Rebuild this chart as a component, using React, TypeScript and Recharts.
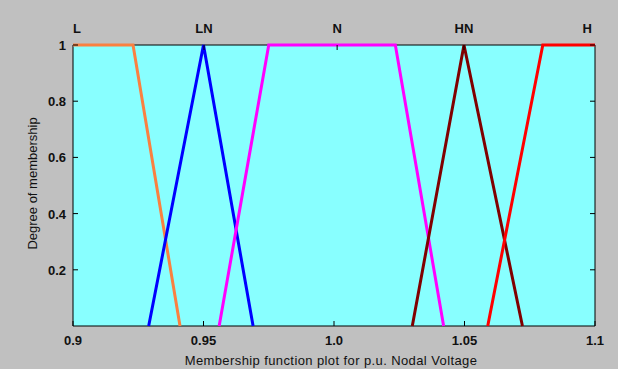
import { LineChart, Line, XAxis, YAxis, ReferenceArea } from "recharts"

const X_TICKS = [0.9, 0.95, 1.0, 1.05, 1.1]
const X_TICK_LABELS = ["0.9", "0.95", "1.0", "1.05", "1.1"]
const Y_TICKS = [0.2, 0.4, 0.6, 0.8, 1]
const Y_TICK_LABELS = ["0.2", "0.4", "0.6", "0.8", "1"]

// membership function names shown on top, and where they sit on the x axis
const MF_NAMES = ["L", "LN", "N", "HN", "H"]
const MF_LABEL_X = [0.9015, 0.9502, 1.0012, 1.0498, 1.097]

const L_X = [0.9, 0.923, 0.941]
const L_Y = [1, 1, 0]
const LN_X = [0.929, 0.95, 0.969]
const LN_Y = [0, 1, 0]
const N_X = [0.956, 0.975, 1.0235, 1.042]
const N_Y = [0, 1, 1, 0]
const HN_X = [1.03, 1.0498, 1.0722]
const HN_Y = [0, 1, 0]
const H_X = [1.0589, 1.08, 1.1]
const H_Y = [0, 1, 1]

const toPts = (xs: number[], ys: number[]) => xs.map((x, i) => ({ x, y: ys[i] }))

const SERIES = [
  { name: "L", data: toPts(L_X, L_Y), color: "#fa8040" },
  { name: "LN", data: toPts(LN_X, LN_Y), color: "#0000ff" },
  { name: "N", data: toPts(N_X, N_Y), color: "#ff00ff" },
  { name: "HN", data: toPts(HN_X, HN_Y), color: "#800000" },
  { name: "H", data: toPts(H_X, H_Y), color: "#ff0000" },
]

const FONT = "'Liberation Sans', Arial, sans-serif"
const TICK_LEN = 5

const BottomTick = (props: any) => {
  const { x, y, index } = props
  return (
    <g>
      <line x1={x} x2={x} y1={y} y2={y - TICK_LEN} stroke="#000" />
      <text x={x} y={y + 19} textAnchor="middle" fontSize={13} fontWeight="bold" fontFamily={FONT} fill="#111">
        {X_TICK_LABELS[index]}
      </text>
    </g>
  )
}

const LeftTick = (props: any) => {
  const { x, y, index } = props
  return (
    <g>
      <line x1={x} x2={x + TICK_LEN} y1={y} y2={y} stroke="#000" />
      <text x={x - 7} y={y + 5} textAnchor="end" fontSize={13} fontWeight="bold" fontFamily={FONT} fill="#111">
        {Y_TICK_LABELS[index]}
      </text>
    </g>
  )
}

const RightTick = (props: any) => {
  const { x, y } = props
  return <line x1={x} x2={x - TICK_LEN} y1={y} y2={y} stroke="#000" />
}

const TopTick = (props: any) => {
  const { x, y, index } = props
  const edge = index === 0 || index === MF_NAMES.length - 1
  return (
    <g>
      {!edge && <line x1={x} x2={x} y1={y} y2={y + TICK_LEN} stroke="#000" />}
      <text x={x} y={y - 12} textAnchor="middle" fontSize={13} fontWeight="bold" fontFamily={FONT} fill="#111">
        {MF_NAMES[index]}
      </text>
    </g>
  )
}

export default function App() {
  return (
    <div style={{ position: "absolute", left: 0, top: 0, width: 618, height: 369, background: "#c0c0c0" }}>
      <LineChart width={618} height={369} margin={{ top: 0, right: 0, bottom: 0, left: 0 }}>
        <XAxis
          xAxisId="bottom"
          dataKey="x"
          type="number"
          domain={[0.9, 1.1]}
          ticks={X_TICKS}
          height={43}
          axisLine={false}
          tickLine={false}
          tickSize={0}
          tickMargin={0}
          tick={<BottomTick />}
          interval={0}
          label={{
            content: (p: any) => {
              const vb = p.viewBox
              return (
                <text x={vb.x + vb.width / 2 - 3} y={vb.y + 39} textAnchor="middle" fontSize={13} letterSpacing={0.4} fontFamily={FONT} fill="#111">
                  Membership function plot for p.u. Nodal Voltage
                </text>
              )
            },
          }}
        />
        <XAxis
          xAxisId="top"
          dataKey="x"
          orientation="top"
          type="number"
          domain={[0.9, 1.1]}
          ticks={MF_LABEL_X}
          height={45}
          axisLine={false}
          tickLine={false}
          tickSize={0}
          tickMargin={0}
          tick={<TopTick />}
          interval={0}
        />
        <YAxis
          yAxisId="left"
          type="number"
          domain={[0, 1]}
          ticks={Y_TICKS}
          width={73}
          axisLine={false}
          tickLine={false}
          tickSize={0}
          tickMargin={0}
          tick={<LeftTick />}
          interval={0}
          label={{
            content: (p: any) => {
              const vb = p.viewBox
              const cx = 32
              const cy = vb.y + vb.height / 2 - 2
              return (
                <text x={cx} y={cy} transform={`rotate(-90 ${cx} ${cy})`} textAnchor="middle" dominantBaseline="central" fontSize={13} fontFamily={FONT} fill="#111">
                  Degree of membership
                </text>
              )
            },
          }}
        />
        <YAxis
          yAxisId="right"
          orientation="right"
          type="number"
          domain={[0, 1]}
          ticks={Y_TICKS}
          width={23}
          axisLine={false}
          tickLine={false}
          tickSize={0}
          tickMargin={0}
          tick={<RightTick />}
          interval={0}
        />
        <ReferenceArea
          xAxisId="bottom"
          yAxisId="left"
          x1={0.9}
          x2={1.1}
          y1={0}
          y2={1}
          fill="#88ffff"
          fillOpacity={1}
          stroke="#000"
          strokeWidth={1}
        />
        {SERIES.map((s) => (
          <Line
            key={s.name}
            xAxisId="bottom"
            yAxisId="left"
            data={s.data}
            dataKey="y"
            name={s.name}
            stroke={s.color}
            strokeWidth={3}
            dot={false}
            isAnimationActive={false}
          />
        ))}
        {/* invisible series so the top / right frame axes get drawn */}
        <Line
          xAxisId="top"
          yAxisId="right"
          data={SERIES[0].data}
          dataKey="y"
          stroke="none"
          dot={false}
          activeDot={false}
          legendType="none"
          isAnimationActive={false}
        />
      </LineChart>
    </div>
  )
}
